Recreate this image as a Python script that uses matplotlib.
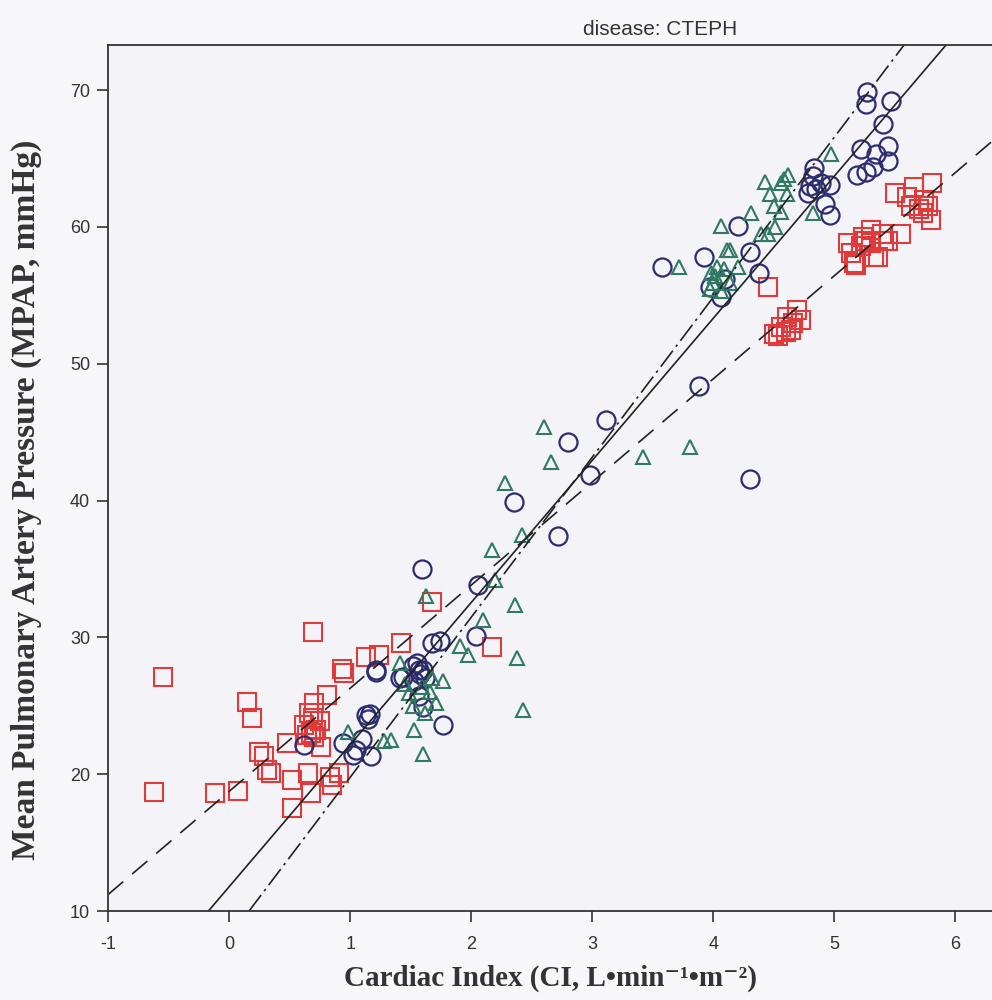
import matplotlib.pyplot as plt

plt.rcParams["axes.unicode_minus"] = False

# ------------------------------------------------------------------------------
# data

red_x = [-0.55, -0.62, -0.12, 0.07, 0.15, 0.19, 0.25, 0.31, 0.35, 0.48, 0.52, 0.52,
         0.65, 0.68, 0.83, 0.91, 0.85, 0.69, 0.70, 0.81, 0.62, 0.66, 0.72, 0.75,
         0.64, 0.70, 0.68, 0.93, 0.95, 1.13, 1.24, 1.42, 1.68, 2.17, 0.69, 0.76, 0.29,
         4.45, 4.50, 4.53, 4.56, 4.60, 4.61, 4.64, 4.69, 4.72, 4.66,
         5.11, 5.14, 5.16, 5.18, 5.22, 5.24, 5.25, 5.30, 5.30, 5.33, 5.36, 5.39,
         5.41, 5.44, 5.55, 5.50, 5.60, 5.63, 5.66, 5.73, 5.74, 5.77, 5.80, 5.81, 5.70]
red_y = [27.1, 18.7, 18.6, 18.8, 25.3, 24.1, 21.6, 20.3, 20.1, 22.3, 19.6, 17.5,
         20.1, 18.6, 19.8, 20.1, 19.2, 24.1, 25.2, 25.8, 23.6, 24.5, 23.2, 23.9,
         22.9, 22.7, 23.0, 27.7, 27.4, 28.6, 28.7, 29.6, 32.6, 29.3, 30.4, 22.0, 21.3,
         55.6, 52.2, 52.0, 52.7, 52.3, 53.4, 52.5, 53.9, 53.2, 53.0,
         58.8, 58.1, 57.4, 57.2, 58.6, 59.3, 59.0, 59.8, 58.8, 57.8, 57.8, 59.5,
         59.0, 59.0, 59.5, 62.5, 62.2, 61.5, 62.9, 61.0, 62.0, 61.5, 60.5, 63.2, 61.3]

blue_x = [1.21, 1.52, 1.44, 1.57, 1.55, 1.58, 1.60, 1.53, 1.62, 1.57, 1.60, 1.77,
          1.13, 1.16, 1.15, 0.62, 0.94, 1.10, 1.05, 1.17, 1.02, 1.68, 1.74, 1.59,
          2.06, 2.04, 1.41, 1.21,
          2.35, 2.80, 3.11, 2.98, 2.72, 4.30, 3.88,
          3.58, 3.92, 4.30, 4.38, 4.06, 4.20, 3.97, 4.10,
          5.27, 5.26, 5.47, 5.40, 5.44, 5.22, 5.34, 5.44, 5.19, 5.26, 5.32,
          4.83, 4.82, 4.89, 4.96, 4.78, 4.92, 4.96, 4.80, 4.85]
blue_y = [27.6, 27.9, 27.1, 27.6, 28.1, 27.3, 27.6, 26.8, 27.0, 25.7, 24.9, 23.6,
          24.3, 24.4, 24.0, 22.1, 22.3, 22.6, 21.8, 21.3, 21.4, 29.6, 29.7, 35.0,
          33.8, 30.1, 27.0, 27.5,
          39.9, 44.3, 45.9, 41.9, 37.4, 41.6, 48.4,
          57.1, 57.8, 58.2, 56.6, 54.9, 60.1, 55.6, 56.2,
          69.9, 69.0, 69.2, 67.5, 65.9, 65.7, 65.3, 64.8, 63.8, 64.0, 64.4,
          64.3, 63.7, 63.2, 63.1, 62.5, 61.7, 60.9, 63.0, 62.8]

green_x = [1.63, 2.10, 1.91, 1.97, 2.38, 2.43, 1.77, 1.68, 1.41, 1.66, 1.71, 1.53,
           1.60, 0.98, 1.28, 1.34, 1.49, 1.52, 2.36, 1.59, 1.62, 1.45,
           2.60, 2.66, 2.28, 2.42, 2.17, 2.20, 3.42, 3.81,
           4.97, 4.58, 4.62, 4.56, 4.43, 4.47, 4.61, 4.50, 4.56, 4.31, 4.06, 4.39,
           4.45, 4.51, 4.14, 4.82, 3.72, 4.11, 4.03, 3.98, 4.01, 4.00, 4.14, 4.09,
           4.20, 4.06, 3.97]
green_y = [33.0, 31.3, 29.4, 28.7, 28.5, 24.7, 26.8, 27.0, 28.1, 26.0, 25.2, 23.2,
           21.5, 23.1, 22.4, 22.5, 25.9, 25.0, 32.4, 26.4, 24.5, 26.6,
           45.4, 42.8, 41.3, 37.5, 36.4, 34.2, 43.2, 43.9,
           65.3, 63.5, 63.8, 63.2, 63.3, 62.4, 62.4, 61.5, 61.1, 61.0, 60.1, 59.5,
           59.5, 60.0, 58.3, 61.0, 57.1, 58.3, 57.1, 56.6, 56.4, 55.9, 55.9, 56.9,
           57.1, 55.3, 55.5]

# fitted lines: intercept, slope
fit_solid = (11.77, 10.39)
fit_dash = (18.74, 7.54)
fit_dashdot = (8.07, 11.70)

x_ticks = [-1, 0, 1, 2, 3, 4, 5, 6]
y_ticks = [10, 20, 30, 40, 50, 60, 70]

# ------------------------------------------------------------------------------

fig = plt.figure(figsize=(9.92, 10), dpi=100, facecolor="#f7f7fa")
# axes run off the right edge of the picture (the scan was cropped)
ax = fig.add_axes([0.1089, 0.089, 1.113, 0.866])
ax.set_facecolor("#f3f3f8")

ax.plot(red_x, red_y, ls="none", marker="s", ms=13, mfc="none", mec="#e03a3a", mew=1.5)
ax.plot(blue_x, blue_y, ls="none", marker="o", ms=13, mfc="none", mec="#2c2c70", mew=1.6)
ax.plot(green_x, green_y, ls="none", marker="^", ms=10, mfc="none", mec="#2f7a60", mew=1.5)

ax.axline((0, fit_solid[0]), slope=fit_solid[1], color="#222222", lw=1.2)
ax.axline((0, fit_dash[0]), slope=fit_dash[1], color="#222222", lw=1.2, dashes=(12, 7))
ax.axline((0, fit_dashdot[0]), slope=fit_dashdot[1], color="#222222", lw=1.2,
          dashes=(12, 3, 1.5, 3))

ax.set_xlim(-1, 8.12)
ax.set_ylim(10, 73.3)
ax.set_xticks(x_ticks)
ax.set_yticks(y_ticks)
ax.tick_params(direction="out", length=8, width=1.2, color="#333333",
               labelsize=13, labelcolor="#333333")
ax.tick_params(axis="x", pad=10)
ax.tick_params(axis="y", pad=5)
for lab in ax.get_xticklabels() + ax.get_yticklabels():
  lab.set_family("Liberation Sans")
for s in ["left", "bottom", "top"]:
  ax.spines[s].set_color("#333333")
  ax.spines[s].set_linewidth(1.3)

ax.set_title("disease: CTEPH", fontsize=15, family="Liberation Sans", color="#333333", pad=7)

fig.text(0.555, 0.022, "Cardiac Index (CI, L\u2022min\u207b\u00b9\u2022m\u207b\u00b2)",
         ha="center", va="center", fontsize=21, fontweight="bold",
         family=["Liberation Serif", "DejaVu Serif"], color="#333333")
fig.text(0.027, 0.5, "Mean Pulmonary Artery Pressure (MPAP, mmHg)", rotation=90,
         ha="center", va="center", fontsize=24, fontweight="bold",
         family=["Liberation Serif", "DejaVu Serif"], color="#333333")

plt.savefig("out.png", dpi=100, facecolor=fig.get_facecolor())
